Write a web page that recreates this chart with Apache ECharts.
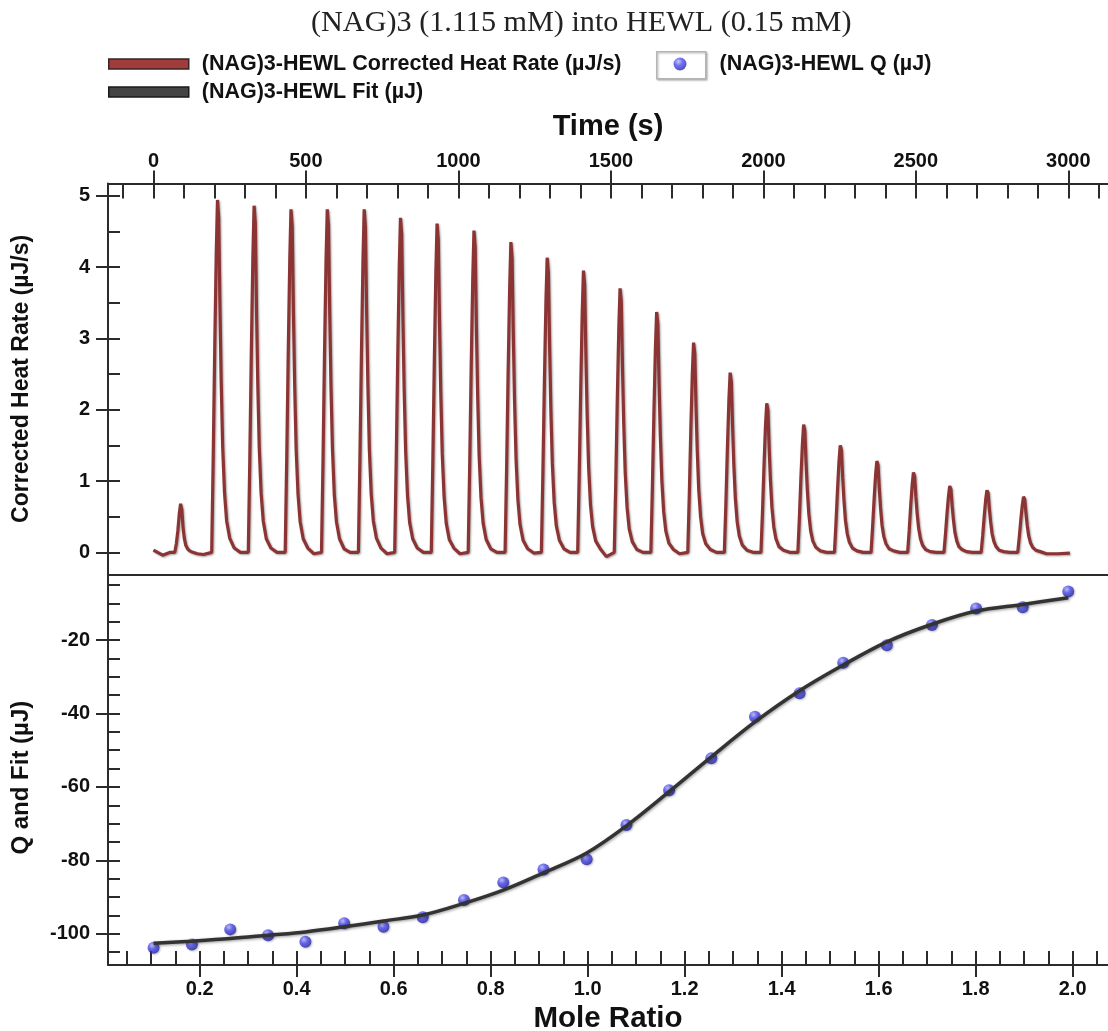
<!DOCTYPE html>
<html><head><meta charset="utf-8">
<script src="https://cdn.jsdelivr.net/npm/echarts@6/dist/echarts.min.js"></script>
<style>html,body{margin:0;padding:0;background:#fff}#chart{width:1108px;height:1031px}</style>
</head><body><div id="chart"></div>
<script>
// ---------- text ----------
const titleText = '(NAG)3 (1.115 mM) into HEWL (0.15 mM)';
const heatName = '(NAG)3-HEWL Corrected Heat Rate (µJ/s)';
const qName = '(NAG)3-HEWL Q (µJ)';
const fitName = '(NAG)3-HEWL Fit (µJ)';

// ---------- top panel: heat-rate trace ----------
// time (s) of each injection peak tip
const heatTipTimes = [89, 210, 330, 451, 570, 691, 810, 930, 1051, 1172, 1291, 1410,
  1530, 1650, 1771, 1891, 2011, 2132, 2252, 2372, 2492, 2611, 2733, 2853];
// seconds relative to each tip at which the trace was read
const heatOffsets = [-19, -14, -9, -4, 0, 4, 8, 12, 17, 23, 30, 40, 55, 75];
// heat rate (µJ/s) read at those offsets, one row per injection
const heatRows = [
  [0, 0.12, 0.30, 0.55, 0.68, 0.60, 0.35, 0.20, 0.10, 0.05, 0.02, 0, -0.02, -0.03],
  [0, 1.33, 2.87, 4.20, 4.94, 4.69, 3.46, 2.42, 1.48, 0.84, 0.44, 0.20, 0.06, 0],
  [0, 1.31, 2.82, 4.13, 4.86, 4.62, 3.40, 2.38, 1.46, 0.83, 0.44, 0.19, 0.06, 0],
  [0, 1.30, 2.79, 4.09, 4.81, 4.57, 3.37, 2.36, 1.44, 0.82, 0.43, 0.19, 0.06, -0.02],
  [0, 1.28, 2.80, 4.10, 4.81, 4.58, 3.36, 2.35, 1.45, 0.81, 0.43, 0.19, 0.05, 0],
  [0, 1.30, 2.78, 4.08, 4.81, 4.56, 3.38, 2.37, 1.44, 0.82, 0.44, 0.20, 0.06, -0.02],
  [0, 1.27, 2.72, 3.99, 4.69, 4.46, 3.28, 2.30, 1.41, 0.80, 0.42, 0.19, 0.06, 0],
  [0, 1.24, 2.67, 3.92, 4.61, 4.38, 3.23, 2.26, 1.38, 0.78, 0.41, 0.18, 0.06, -0.02],
  [0, 1.22, 2.62, 3.83, 4.51, 4.28, 3.16, 2.21, 1.35, 0.77, 0.41, 0.18, 0.05, 0],
  [0, 1.17, 2.52, 3.70, 4.35, 4.13, 3.05, 2.13, 1.31, 0.74, 0.39, 0.17, 0.05, -0.01],
  [0, 1.12, 2.40, 3.51, 4.13, 3.92, 2.89, 2.02, 1.24, 0.70, 0.37, 0.17, 0.05, 0],
  [0, 1.07, 2.29, 3.36, 3.95, 3.75, 2.77, 1.94, 1.19, 0.67, 0.36, 0.16, 0.05, -0.06],
  [0, 1.00, 2.15, 3.15, 3.70, 3.52, 2.59, 1.81, 1.11, 0.63, 0.33, 0.15, 0.04, 0],
  [0, 0.91, 1.95, 2.86, 3.37, 3.20, 2.36, 1.65, 1.01, 0.57, 0.30, 0.13, 0.04, -0.02],
  [0, 0.79, 1.71, 2.50, 2.94, 2.79, 2.06, 1.44, 0.88, 0.50, 0.26, 0.12, 0.04, 0],
  [0, 0.68, 1.46, 2.14, 2.52, 2.39, 1.76, 1.23, 0.76, 0.43, 0.23, 0.10, 0.03, 0],
  [0, 0.56, 1.21, 1.78, 2.09, 1.99, 1.46, 1.02, 0.63, 0.36, 0.19, 0.08, 0.03, 0],
  [0, 0.48, 1.04, 1.52, 1.79, 1.70, 1.25, 0.88, 0.54, 0.30, 0.16, 0.07, 0.02, 0],
  [0, 0.41, 0.87, 1.28, 1.50, 1.43, 1.05, 0.74, 0.45, 0.26, 0.14, 0.06, 0.02, 0],
  [0, 0.35, 0.74, 1.09, 1.28, 1.22, 0.90, 0.63, 0.38, 0.22, 0.12, 0.05, 0.02, 0],
  [0, 0.30, 0.65, 0.95, 1.12, 1.06, 0.78, 0.55, 0.34, 0.19, 0.10, 0.04, 0.01, 0],
  [0, 0.25, 0.54, 0.79, 0.93, 0.88, 0.65, 0.46, 0.28, 0.16, 0.08, 0.04, 0.01, 0],
  [0, 0.23, 0.50, 0.74, 0.87, 0.83, 0.61, 0.43, 0.26, 0.15, 0.08, 0.03, 0.01, 0],
  [0, 0.21, 0.45, 0.66, 0.78, 0.74, 0.55, 0.38, 0.23, 0.13, 0.07, 0.03, 0.01, -0.02]
];
const heatStart = [[0, 0.03], [30, -0.04], [55, 0]];
const heatEnd = [[2965, -0.02], [3005, -0.01]];

// ---------- bottom panel: integrated heats ----------
const moleRatio = [0.105, 0.184, 0.263, 0.341, 0.418, 0.498, 0.579, 0.660, 0.745, 0.826, 0.909, 0.998,
  1.080, 1.168, 1.255, 1.345, 1.437, 1.527, 1.617, 1.710, 1.801, 1.897, 1.991];
const qValues = [-103.8, -102.9, -98.8, -100.4, -102.2, -97.1, -98.1, -95.5, -90.8, -86.0, -82.5, -79.7,
  -70.4, -60.9, -52.2, -40.9, -34.5, -26.2, -21.4, -15.9, -11.4, -11.1, -6.8];
const fitValues = [-102.6, -102.0, -101.3, -100.4, -99.5, -98.1, -96.5, -94.9, -91.7, -88.1, -83.4, -78.0,
  -70.6, -61.3, -51.8, -42.3, -33.8, -26.8, -20.5, -15.7, -12.1, -10.3, -8.5];

// ---------- ticks ----------
const timeMajorTicks = [0, 500, 1000, 1500, 2000, 2500, 3000];
const heatMajorTicks = [0, 1, 2, 3, 4, 5];
const moleMajorTicks = [0.2, 0.4, 0.6, 0.8, 1.0, 1.2, 1.4, 1.6, 1.8, 2.0];
const qMajorTicks = [-100, -80, -60, -40, -20];
function steps(a, b, s) { const r = []; for (let i = 0; a + i * s <= b + 1e-9; i++) r.push(+(a + i * s).toFixed(4)); return r; }
const timeAllTicks = steps(-100, 3100, 100);
const heatAllTicks = steps(0, 5, 0.5);
const moleAllTicks = steps(0.05, 2.05, 0.05);
const qAllTicks = steps(-105, -5, 5);

// ---------- build ----------
const heatTrace = heatStart.slice();
heatTipTimes.forEach((tip, i) => heatOffsets.forEach((off, j) => heatTrace.push([tip + off, heatRows[i][j]])));
heatEnd.forEach(p => heatTrace.push(p));
const qData = moleRatio.map((x, i) => [x, qValues[i]]);
const fitData = moleRatio.map((x, i) => [x, fitValues[i]]);

const SANS = 'Liberation Sans, Arial, sans-serif';
const AX = '#2b2b2b';
const tickFont = { fontFamily: SANS, fontWeight: 'bold', fontSize: 20, color: '#111' };
const nameFont = { fontFamily: SANS, fontWeight: 'bold', color: '#111' };
const axLine = { show: true, onZero: false, lineStyle: { color: AX, width: 2 } };
const noLine = { show: false, onZero: false };
const tickStyle = { color: AX, width: 2 };
const legendText = { fontFamily: SANS, fontWeight: 'bold', fontSize: 21.5, color: '#111' };

const T_MIN = -149, T_MAX = 3130, H_MIN = -0.308, H_MAX = 5.171;
const M_MIN = 0.011, M_MAX = 2.073, Q_MIN = -108.5, Q_MAX = -2.1;

const chart = echarts.init(document.getElementById('chart'), null, { renderer: 'canvas' });
chart.setOption({
  animation: false,
  backgroundColor: '#fff',
  title: {
    text: titleText, left: 311, top: 8, padding: 0,
    textStyle: { fontFamily: 'Liberation Serif, Times New Roman, serif', fontWeight: 'normal', fontSize: 30.2, color: '#222' }
  },
  legend: [
    { data: [{ name: heatName, itemStyle: { color: '#a03c3c', borderColor: '#3a2323', borderWidth: 1.5 } }],
      left: 108, top: 53, padding: 0, icon: 'rect', itemWidth: 80, itemHeight: 10,
      textStyle: { ...legendText, padding: [0, 0, 0, 8] } },
    { data: [{ name: fitName, itemStyle: { color: '#444', borderColor: '#1a1a1a', borderWidth: 1.5 } }],
      left: 108, top: 81, padding: 0, icon: 'rect', itemWidth: 80, itemHeight: 10,
      textStyle: { ...legendText, padding: [0, 0, 0, 8] } },
    { data: [{ name: qName }],
      left: 673.5, top: 53, padding: 0, icon: 'circle', itemWidth: 13, itemHeight: 13,
      textStyle: { ...legendText, padding: [0, 0, 0, 28] } }
  ],
  graphic: [
    { type: 'rect', left: 656, top: 51, z: -1,
      shape: { width: 49, height: 27 },
      style: { fill: '#fff', stroke: '#b5b5b5', lineWidth: 1.5, shadowColor: 'rgba(0,0,0,0.25)', shadowBlur: 2, shadowOffsetX: 1, shadowOffsetY: 1 } }
  ],
  grid: [
    { left: 108, top: 183.5, width: 1000, height: 390.8, outerBoundsMode: 'none', containLabel: false },
    { left: 108, top: 574.3, width: 1000, height: 390.7, outerBoundsMode: 'none', containLabel: false }
  ],
  xAxis: [
    { gridIndex: 0, type: 'value', position: 'top', min: T_MIN, max: T_MAX,
      axisLine: axLine,
      axisTick: { show: true, inside: false, length: 13, customValues: timeMajorTicks, lineStyle: tickStyle },
      axisLabel: { show: true, customValues: timeMajorTicks, margin: 12, formatter: v => String(Math.round(v)), ...tickFont },
      splitLine: { show: false },
      name: 'Time (s)', nameLocation: 'middle', nameGap: 42, nameTextStyle: { ...nameFont, fontSize: 29 } },
    { gridIndex: 0, type: 'value', position: 'top', min: T_MIN, max: T_MAX,
      axisLine: noLine,
      axisTick: { show: true, inside: true, length: 15, customValues: timeAllTicks, lineStyle: tickStyle },
      axisLabel: { show: false }, splitLine: { show: false } },
    { gridIndex: 0, type: 'value', position: 'bottom', min: T_MIN, max: T_MAX,
      axisLine: axLine, axisTick: { show: false }, axisLabel: { show: false }, splitLine: { show: false } },
    { gridIndex: 1, type: 'value', position: 'bottom', min: M_MIN, max: M_MAX,
      axisLine: axLine,
      axisTick: { show: true, inside: false, length: 12, customValues: moleMajorTicks, lineStyle: tickStyle },
      axisLabel: { show: true, customValues: moleMajorTicks, margin: 14, formatter: v => v.toFixed(1), ...tickFont },
      splitLine: { show: false },
      name: 'Mole Ratio', nameLocation: 'middle', nameGap: 39, nameTextStyle: { ...nameFont, fontSize: 29.5 } },
    { gridIndex: 1, type: 'value', position: 'bottom', min: M_MIN, max: M_MAX,
      axisLine: noLine,
      axisTick: { show: true, inside: true, length: 14, customValues: moleAllTicks, lineStyle: tickStyle },
      axisLabel: { show: false }, splitLine: { show: false } }
  ],
  yAxis: [
    { gridIndex: 0, type: 'value', position: 'left', min: H_MIN, max: H_MAX,
      axisLine: axLine,
      axisTick: { show: true, inside: false, length: 12, customValues: heatMajorTicks, lineStyle: tickStyle },
      axisLabel: { show: true, customValues: heatMajorTicks, margin: 18, ...tickFont },
      splitLine: { show: false },
      name: 'Corrected Heat Rate (µJ/s)', nameLocation: 'middle', nameGap: 75, nameTextStyle: { ...nameFont, fontSize: 23 } },
    { gridIndex: 0, type: 'value', position: 'left', min: H_MIN, max: H_MAX,
      axisLine: noLine,
      axisTick: { show: true, inside: true, length: 12, customValues: heatAllTicks, lineStyle: tickStyle },
      axisLabel: { show: false }, splitLine: { show: false } },
    { gridIndex: 1, type: 'value', position: 'left', min: Q_MIN, max: Q_MAX,
      axisLine: axLine,
      axisTick: { show: true, inside: false, length: 12, customValues: qMajorTicks, lineStyle: tickStyle },
      axisLabel: { show: true, customValues: qMajorTicks, margin: 18, ...tickFont },
      splitLine: { show: false },
      name: 'Q and Fit (µJ)', nameLocation: 'middle', nameGap: 75,
      nameTextStyle: { ...nameFont, fontSize: 24, padding: [0, 16, 0, 0] } },
    { gridIndex: 1, type: 'value', position: 'left', min: Q_MIN, max: Q_MAX,
      axisLine: noLine,
      axisTick: { show: true, inside: true, length: 12, customValues: qAllTicks, lineStyle: tickStyle },
      axisLabel: { show: false }, splitLine: { show: false } }
  ],
  series: [
    { name: heatName, type: 'line', xAxisIndex: 0, yAxisIndex: 0, data: heatTrace,
      showSymbol: false, symbol: 'none', z: 3,
      lineStyle: { color: '#8c3333', width: 3.2, shadowColor: 'rgba(0,0,0,0.35)', shadowBlur: 2, shadowOffsetX: 1, shadowOffsetY: 1 },
      itemStyle: { color: '#8c3333' } },
    { name: qName, type: 'scatter', xAxisIndex: 3, yAxisIndex: 2, data: qData,
      symbol: 'circle', symbolSize: 12, z: 3,
      itemStyle: {
        color: new echarts.graphic.RadialGradient(0.38, 0.32, 0.75, [
          { offset: 0, color: '#b8b9ff' }, { offset: 0.4, color: '#4f4ff0' }, { offset: 1, color: '#1e1ea0' }]),
        shadowColor: 'rgba(0,0,0,0.3)', shadowBlur: 2, shadowOffsetX: 1, shadowOffsetY: 1 } },
    { name: fitName, type: 'line', xAxisIndex: 3, yAxisIndex: 2, data: fitData,
      smooth: 0.35, showSymbol: false, symbol: 'none', z: 4,
      lineStyle: { color: '#333', width: 3.5, shadowColor: 'rgba(0,0,0,0.4)', shadowBlur: 3, shadowOffsetX: 1, shadowOffsetY: 1 },
      itemStyle: { color: '#333' } }
  ]
});
</script>
</body></html>
